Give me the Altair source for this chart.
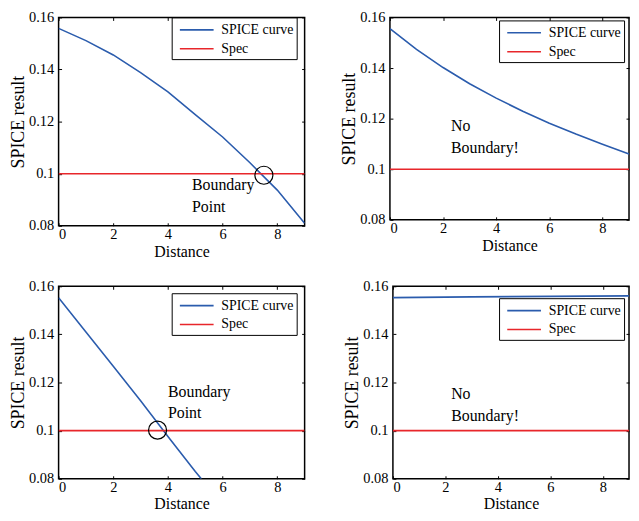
import altair as alt
import pandas as pd

FONT = "Liberation Serif"
BLUE = "#2b5cad"
RED = "#e8262b"

# ---- data ----
series_names = ["SPICE curve", "Spec"]
spec_x = [0, 9]
spec_y = [0.1, 0.1]

p1_x = [0, 1, 2, 3, 4, 5, 6, 7, 8, 9]
p1_y = [0.1558, 0.1511, 0.1456, 0.1388, 0.1314, 0.1227, 0.1141, 0.1042, 0.0937, 0.0810]

p2_x = [0, 1, 2, 3, 4, 5, 6, 7, 8, 9]
p2_y = [0.1556, 0.1474, 0.1402, 0.1338, 0.1281, 0.1229, 0.1182, 0.1139, 0.1099, 0.1060]

p3_x = [0, 1, 2, 3, 4, 5, 5.22]
p3_y = [0.1552, 0.1410, 0.1268, 0.1124, 0.0976, 0.0830, 0.0800]

p4_x = [0, 3, 6, 9]
p4_y = [0.1553, 0.1556, 0.1558, 0.1560]

p1_ann_x = [4.88, 4.88]
p1_ann_y = [0.0956, 0.0873]
p1_ann_t = ["Boundary", "Point"]
p1_circ = ([7.51], [0.0994])

p2_ann_x = [2.3, 2.3]
p2_ann_y = [0.1169, 0.1082]
p2_ann_t = ["No", "Boundary!"]

p3_ann_x = [4.0, 4.0]
p3_ann_y = [0.1159, 0.1072]
p3_ann_t = ["Boundary", "Point"]
p3_circ = ([3.62], [0.1002])

p4_ann_x = [2.22, 2.22]
p4_ann_y = [0.1151, 0.1062]
p4_ann_t = ["No", "Boundary!"]

x_ticks = [0, 2, 4, 6, 8]
y_ticks = [0.08, 0.1, 0.12, 0.14, 0.16]


def panel(cx, cy, ax, ay, at, circ, w, h, lx, ly):
    df = pd.DataFrame({
        "x": list(cx) + spec_x,
        "y": list(cy) + spec_y,
        "series": [series_names[0]] * len(cx) + [series_names[1]] * len(spec_x),
    })
    xs = alt.Scale(domain=[0, 9], nice=False, zero=False)
    ys = alt.Scale(domain=[0.08, 0.16], nice=False, zero=False)
    lines = alt.Chart(df).mark_line(strokeWidth=1.6, clip=True).encode(
        x=alt.X("x:Q", scale=xs, axis=alt.Axis(
            orient="bottom", values=x_ticks, title="Distance", offset=-3,
            tickSize=3, domain=False, labelPadding=2, titlePadding=2, grid=False,
            minExtent=0)),
        y=alt.Y("y:Q", scale=ys, axis=alt.Axis(
            orient="left", values=y_ticks, title="SPICE result", format="~g",
            offset=-3, tickSize=3, domain=False, labelPadding=5, titlePadding=1,
            grid=False, minExtent=0)),
        color=alt.Color("series:N", scale=alt.Scale(domain=series_names, range=[BLUE, RED]),
                        legend=alt.Legend(
                            title=None, orient="none", legendX=lx, legendY=ly,
                            symbolType="M-0.5,0H3.5", symbolSize=289, symbolStrokeWidth=1.6,
                            labelFont=FONT, labelFontSize=14, labelColor="black",
                            strokeColor="black", fillColor="white", padding=3,
                            rowPadding=2, labelOffset=28)),
        detail="series:N",
    )
    adf = pd.DataFrame({"x": ax, "y": ay, "t": at})
    ann = alt.Chart(adf).mark_text(align="left", baseline="middle", font=FONT,
                                   fontSize=16, color="black").encode(
        x=alt.X("x:Q", scale=xs, axis=alt.Axis(
            orient="top", values=x_ticks, labels=False, title=None, offset=-3,
            tickSize=3, domain=False, grid=False, minExtent=0, maxExtent=0)),
        y=alt.Y("y:Q", scale=ys, axis=alt.Axis(
            orient="right", values=y_ticks, labels=False, title=None, offset=-3,
            tickSize=3, domain=False, grid=False, minExtent=0, maxExtent=0)),
        text="t:N",
    )
    layers = [lines, ann]
    if circ is not None:
        cdf = pd.DataFrame({"x": circ[0], "y": circ[1]})
        c = alt.Chart(cdf).mark_point(shape="circle", size=330, filled=False,
                                      color="black", strokeWidth=1.2, opacity=1).encode(
            x=alt.X("x:Q", scale=xs, axis=None),
            y=alt.Y("y:Q", scale=ys, axis=None),
        )
        layers.append(c)
    return alt.layer(*layers).resolve_axis(x="independent", y="independent").properties(
        width=w, height=h)


p1 = panel(p1_x, p1_y, p1_ann_x, p1_ann_y, p1_ann_t, p1_circ, 248, 210, 114, 0)
p2 = panel(p2_x, p2_y, p2_ann_x, p2_ann_y, p2_ann_t, None, 241, 204, 110, 3)
p3 = panel(p3_x, p3_y, p3_ann_x, p3_ann_y, p3_ann_t, p3_circ, 248, 194, 114, 7)
p4 = panel(p4_x, p4_y, p4_ann_x, p4_ann_y, p4_ann_t, None, 238, 194, 107, 12)

row1 = alt.hconcat(p1, p2, spacing=33).resolve_scale(color="independent").resolve_legend(color="independent")
row2 = alt.hconcat(p3, p4, spacing=36).resolve_scale(color="independent").resolve_legend(color="independent")

chart = alt.vconcat(row1, row2, spacing=17).resolve_scale(color="independent").resolve_legend(
    color="independent").properties(
    padding={"top": -1.5, "left": 0, "right": 0, "bottom": -3}
).configure_view(stroke="black", strokeWidth=1.5).configure_axis(
    labelFont=FONT, titleFont=FONT, labelFontSize=14.5, labelColor="black",
    titleColor="black", titleFontWeight="normal", tickColor="black", tickWidth=1
).configure_axisX(titleFontSize=16).configure_axisY(titleFontSize=18)

chart.save("out.html", embed_options={"renderer": "svg", "actions": False})
